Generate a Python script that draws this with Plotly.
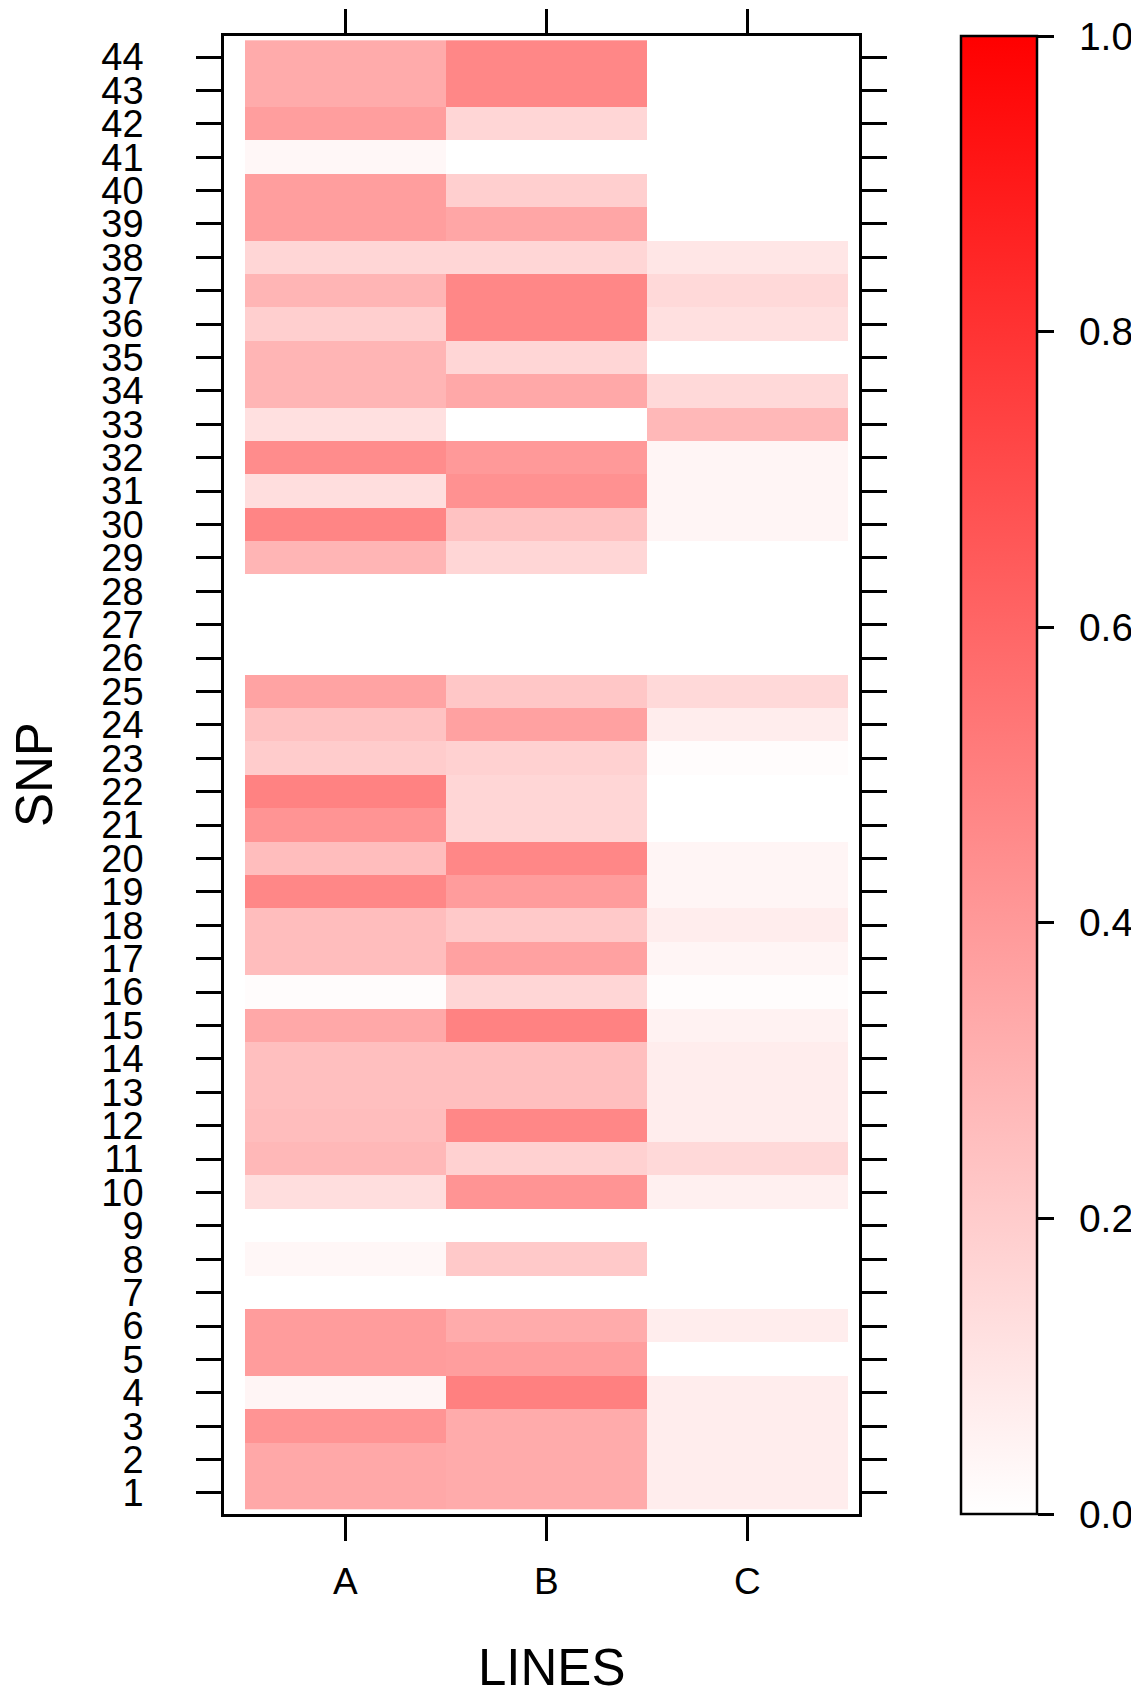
import plotly.graph_objects as go

lines = ["A", "B", "C"]
snp = list(range(1, 45))

# values for SNP 1..44
line_A = [0.34, 0.34, 0.42, 0.04, 0.39, 0.39, 0.00, 0.03, 0.00, 0.13,
          0.28, 0.26, 0.25, 0.25, 0.34, 0.01, 0.26, 0.26, 0.47, 0.26,
          0.42, 0.49, 0.20, 0.24, 0.36, 0.00, 0.00, 0.00, 0.29, 0.48,
          0.13, 0.45, 0.12, 0.29, 0.29, 0.19, 0.29, 0.16, 0.38, 0.38,
          0.03, 0.38, 0.33, 0.33]
line_B = [0.33, 0.33, 0.33, 0.50, 0.38, 0.33, 0.00, 0.21, 0.00, 0.42,
          0.18, 0.47, 0.25, 0.25, 0.49, 0.16, 0.37, 0.21, 0.39, 0.47,
          0.16, 0.16, 0.18, 0.37, 0.22, 0.00, 0.00, 0.00, 0.16, 0.24,
          0.43, 0.40, 0.00, 0.34, 0.16, 0.47, 0.47, 0.16, 0.35, 0.19,
          0.00, 0.16, 0.47, 0.47]
line_C = [0.07, 0.07, 0.07, 0.07, 0.00, 0.07, 0.00, 0.00, 0.00, 0.06,
          0.15, 0.07, 0.07, 0.07, 0.05, 0.01, 0.04, 0.07, 0.04, 0.04,
          0.00, 0.00, 0.01, 0.07, 0.15, 0.00, 0.00, 0.00, 0.00, 0.04,
          0.04, 0.04, 0.28, 0.15, 0.00, 0.12, 0.15, 0.10, 0.00, 0.00,
          0.00, 0.00, 0.00, 0.00]

cbar_ticks = [0.0, 0.2, 0.4, 0.6, 0.8, 1.0]

z = [[a, b, c] for a, b, c in zip(line_A, line_B, line_C)]

FONT = "Liberation Sans, Arial, sans-serif"

fig = go.Figure(go.Heatmap(
    x=lines, y=snp, z=z, zmin=0, zmax=1,
    colorscale=[[0, "#FFFFFF"], [1, "#FF0000"]],
    hoverinfo="skip",
    colorbar=dict(
        x=1.1606, xanchor="left", xpad=0,
        y=0.5, yanchor="middle", len=1, lenmode="fraction", ypad=0,
        thickness=76, thicknessmode="pixels",
        outlinewidth=2.5, outlinecolor="black",
        tickmode="array", tickvals=cbar_ticks,
        ticktext=["\u00a0\u2006" + f"{v:.1f}" for v in cbar_ticks],
        ticks="outside", ticklen=16, tickwidth=2.5, tickcolor="black",
        tickfont=dict(family=FONT, size=39, color="black"),
    ),
))

fig.update_layout(
    width=1131, height=1682,
    margin=dict(l=216, r=280, t=28, b=176, autoexpand=False),
    paper_bgcolor="white", plot_bgcolor="white",
    font=dict(family=FONT, color="black"),
    xaxis=dict(
        type="category", range=[-0.6045, 2.556],
        showline=True, linewidth=2.5, linecolor="black", mirror="ticks",
        ticks="outside", ticklen=24, tickwidth=2.5, tickcolor="black",
        tickfont=dict(size=37), ticklabelstandoff=9,
        showgrid=False, zeroline=False,
    ),
    yaxis=dict(
        range=[0.371, 44.629], tickmode="array", tickvals=snp,
        ticktext=[str(s) for s in snp],
        showline=True, linewidth=2.5, linecolor="black", mirror="ticks",
        ticks="outside", ticklen=25, tickwidth=2.5, tickcolor="black",
        tickfont=dict(size=38), ticklabelstandoff=45,
        showgrid=False, zeroline=False,
    ),
    annotations=[
        dict(text="SNP", xref="paper", yref="paper", x=-0.2992, y=0.5,
             xanchor="center", yanchor="middle", textangle=-90,
             showarrow=False, font=dict(size=51, family=FONT, color="black")),
        dict(text="LINES", xref="paper", yref="paper", x=0.5157, y=-0.1039,
             xanchor="center", yanchor="middle",
             showarrow=False, font=dict(size=51, family=FONT, color="black")),
    ],
)

fig.write_html("out.html")
